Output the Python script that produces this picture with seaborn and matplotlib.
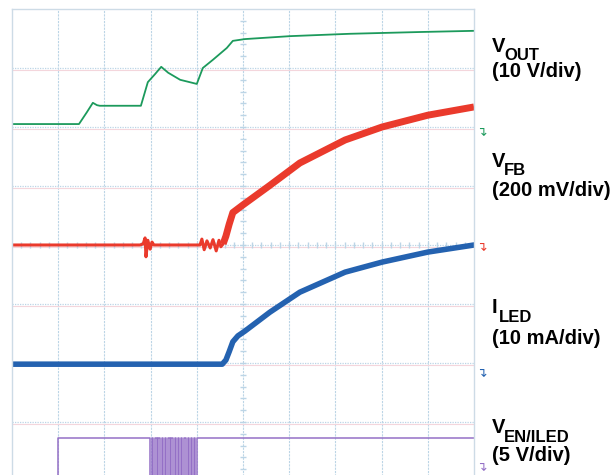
import numpy as np
import matplotlib
matplotlib.use("Agg")
import matplotlib.pyplot as plt
import seaborn as sns

# Scope traces, in divisions (x: 0..10 time divs, y: 0..8 from screen bottom)
vout_x = [0, 1.45, 1.62, 1.75, 1.84, 1.90, 2.79, 2.94, 3.10, 3.23, 3.38, 3.64, 4.00,
          4.13, 4.35, 4.65, 4.78, 5.04, 6.02, 7.32, 8.83, 10.0]
vout_y = [6.05, 6.05, 6.25, 6.41, 6.37, 6.36, 6.36, 6.76, 6.90, 7.02, 6.92, 6.80, 6.73,
          7.00, 7.14, 7.34, 7.46, 7.49, 7.54, 7.58, 7.61, 7.63]

fb_x = [0, 2.77, 2.84, 2.88, 2.90, 2.94, 2.99, 3.03, 3.07, 4.07, 4.11, 4.16, 4.22,
        4.29, 4.35, 4.42, 4.48, 4.52, 4.57,
        4.63, 4.70, 4.78, 5.00, 5.58, 6.23, 7.21, 8.01, 9.00, 10.0]
fb_y = [4.00, 4.00, 4.02, 4.12, 3.80, 4.08, 3.93, 4.05, 4.00, 4.00, 4.10, 3.92, 4.07,
        3.95, 4.09, 3.90, 4.08, 3.97, 4.02,
        4.15, 4.35, 4.55, 4.68, 5.01, 5.39, 5.78, 6.00, 6.20, 6.34]
fb_split = 18  # index where the noisy baseline ends and the ramp starts

iled_x = [0, 4.55, 4.63, 4.70, 4.78, 4.89, 5.04, 5.58, 6.23, 7.21, 8.01, 9.00, 10.0]
iled_y = [1.98, 1.98, 2.05, 2.19, 2.36, 2.46, 2.54, 2.86, 3.20, 3.54, 3.71, 3.88, 4.00]

# EN/ILED: low, then high, then a PWM burst, then high (steps-post)
ven_x = [0, 1.00, 2.99, 3.03, 3.06, 3.10, 3.13, 3.17, 3.20, 3.24, 3.27, 3.31, 3.34,
         3.38, 3.41, 3.45, 3.48, 3.52, 3.55, 3.59, 3.62, 3.66, 3.69, 3.73, 3.76,
         3.80, 3.83, 3.87, 3.90, 3.94, 3.97, 4.00, 10.0]
ven_y = [-0.05, 0.73, -0.05, 0.73, -0.05, 0.73, -0.05, 0.73, -0.05, 0.73, -0.05, 0.73,
         -0.05, 0.73, -0.05, 0.73, -0.05, 0.73, -0.05, 0.73, -0.05, 0.73, -0.05, 0.73,
         -0.05, 0.73, -0.05, 0.73, -0.05, 0.73, -0.05, 0.73, 0.73]

labels = [("V", "OUT", "(10 V/div)", 52, 60, 77),
          ("V", "FB", "(200 mV/div)", 167, 175, 196),
          ("I", "LED", "(10 mA/div)", 313, 322, 344),
          ("V", "EN/ILED", "(5 V/div)", 433, 442, 461)]

sns.set_theme(style="white")
plt.rcParams["font.family"] = ["Liberation Sans", "DejaVu Sans"]

W, H = 614, 475
fig = plt.figure(figsize=(W / 100, H / 100), dpi=100)
ax = fig.add_axes([12 / W, -6 / H, 462 / W, 472 / H])
ax.set_xlim(0, 10)
ax.set_ylim(0, 8)
ax.set_xticks([])
ax.set_yticks([])
for s in ax.spines.values():
    s.set_color("#cddbe6")
    s.set_linewidth(1.0)

# graticule
grid_col = "#bcd5e6"
for gx in range(1, 10):
    ax.axvline(gx, color=grid_col, lw=0.8, ls=(0, (2, 1)), zorder=0)
for gy in range(1, 8):
    ax.axhline(gy - 0.03, color="#f4d6dc", lw=0.8, zorder=0)
    ax.axhline(gy, color=grid_col, lw=0.9, ls=(0, (1, 1)), zorder=0)
minor_y = np.arange(0.2, 8, 0.2)
minor_x = np.arange(0.2, 10, 0.2)
ax.plot([5] * len(minor_y), minor_y, ls="none", marker="_", ms=5, color=grid_col, zorder=0)
ax.plot(minor_x, [4] * len(minor_x), ls="none", marker="|", ms=5, color=grid_col, zorder=0)

# traces
sns.lineplot(x=vout_x, y=vout_y, ax=ax, estimator=None, sort=False,
             color="#1c9a5c", lw=1.3)
sns.lineplot(x=fb_x[:fb_split + 1], y=fb_y[:fb_split + 1], ax=ax, estimator=None,
             sort=False, color="#ea3a2c", lw=2.2)
sns.lineplot(x=fb_x[fb_split:], y=fb_y[fb_split:], ax=ax, estimator=None,
             sort=False, color="#ea3a2c", lw=5.0, solid_capstyle="butt")
sns.lineplot(x=iled_x, y=iled_y, ax=ax, estimator=None, sort=False,
             color="#2462b0", lw=4.0)
ax.step(ven_x, ven_y, where="post", color="#9470c6", lw=1.1)

# channel markers at right edge
for py, col in [(132, "#1c9a5c"), (247, "#ea3a2c"), (373, "#2462b0"), (467, "#9470c6")]:
    fig.text(476 / W, 1 - py / H, "\u21b4", color=col, fontsize=9,
             family="DejaVu Sans", va="center", ha="left")

# channel labels
txt = dict(fontweight="bold", va="baseline", color="black")
for main, sub, scale, yb, ys, y2 in labels:
    fig.text(492 / W, 1 - yb / H, main, fontsize=14.5, **txt)
    fig.text(504 / W if main == "V" else 499 / W, 1 - ys / H, sub, fontsize=12, **txt)
    fig.text(492 / W, 1 - y2 / H, scale, fontsize=14.5, **txt)

fig.savefig("out.png", dpi=100)
